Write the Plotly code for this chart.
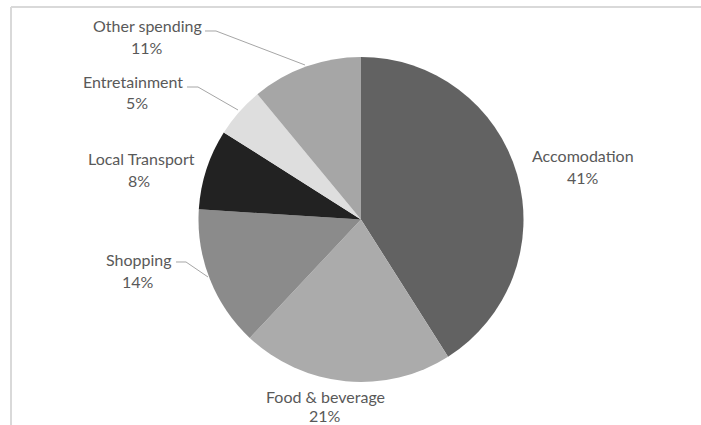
import plotly.graph_objects as go

# ---- data ----
categories = ["Accomodation", "Food & beverage", "Shopping", "Local Transport", "Entretainment", "Other spending"]
values = [41, 21, 14, 8, 5, 11]

# ---- styles ----
colors = ["#626262", "#ababab", "#8b8b8b", "#222222", "#dedede", "#a6a6a6"]
W, H = 701, 425

def px(x):
    return x / W

def py(y):
    return 1 - y / H

# label centre positions (pixels): name line and percent line
label_pos = {
    "Accomodation": ((583, 155), (583, 177)),
    "Food & beverage": ((325, 396), (325, 415)),
    "Shopping": ((139, 259), (138, 281)),
    "Local Transport": ((141, 158), (139, 180)),
    "Entretainment": ((133, 82), (137, 103)),
    "Other spending": ((147, 26), (147, 47)),
}
leaders = {
    "Other spending": [(205, 31), (216, 31), (305, 65)],
    "Entretainment": [(187, 87), (198, 87), (238, 110)],
    "Shopping": [(176, 262), (186, 262), (208, 277)],
}

fig = go.Figure()
fig.add_trace(go.Pie(
    labels=categories,
    values=values,
    sort=False,
    direction="clockwise",
    rotation=0,
    textinfo="none",
    hoverinfo="label+percent",
    marker=dict(colors=colors, line=dict(width=0)),
    domain=dict(x=[px(198.5), px(523.5)], y=[py(382), py(57)]),
    showlegend=False,
))

font = dict(family="Lato, Carlito, Calibri, sans-serif", size=16, color="#595959")
annotations = []
for cat, val in zip(categories, values):
    (nx, ny), (vx, vy) = label_pos[cat]
    annotations.append(dict(x=px(nx), y=py(ny), xref="paper", yref="paper", text=cat,
                            showarrow=False, xanchor="center", yanchor="middle", font=font))
    annotations.append(dict(x=px(vx), y=py(vy), xref="paper", yref="paper", text=f"{val}%",
                            showarrow=False, xanchor="center", yanchor="middle", font=font))

shapes = []
for cat, pts in leaders.items():
    path = "M " + " L ".join(f"{px(x):.5f},{py(y):.5f}" for x, y in pts)
    shapes.append(dict(type="path", path=path, xref="paper", yref="paper",
                       line=dict(color="#a6a6a6", width=1)))
# chart frame (left and top edges visible)
shapes.append(dict(type="line", xref="paper", yref="paper", x0=px(11), y0=py(7), x1=1.02, y1=py(7),
                   line=dict(color="#d9d9d9", width=2)))
shapes.append(dict(type="line", xref="paper", yref="paper", x0=px(11), y0=py(7), x1=px(11), y1=-0.02,
                   line=dict(color="#d9d9d9", width=2)))

fig.update_layout(
    width=W, height=H,
    margin=dict(l=0, r=0, t=0, b=0),
    paper_bgcolor="white",
    plot_bgcolor="white",
    annotations=annotations,
    shapes=shapes,
)

fig.write_html("out.html")
